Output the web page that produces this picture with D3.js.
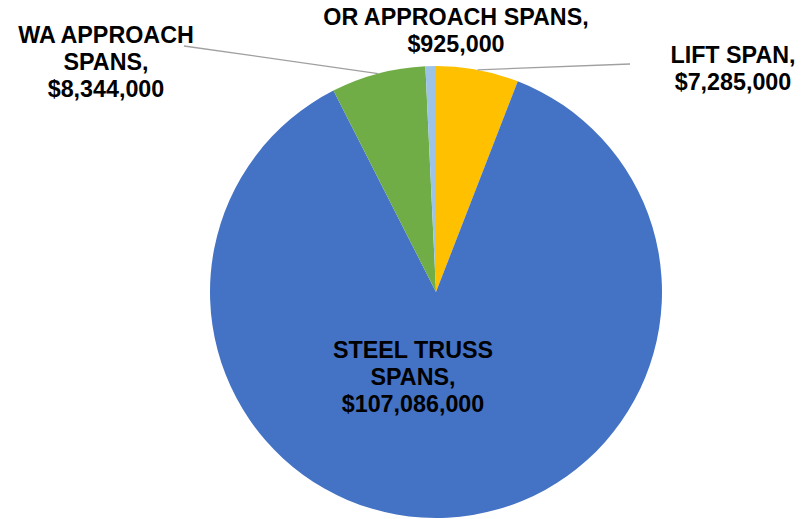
<!DOCTYPE html>
<html>
<head>
<meta charset="utf-8">
<script src="https://cdn.jsdelivr.net/npm/d3@7"></script>
<style>
  html, body { margin: 0; padding: 0; background: #fff; }
  svg { display: block; }
  text { font-family: "Liberation Sans", Arial, sans-serif; font-weight: bold; font-size: 23.3px; fill: #000; }
</style>
</head>
<body>
<svg id="chart" width="807" height="519"></svg>
<script>
// ---- data ----
const categories = ["LIFT SPAN", "STEEL TRUSS SPANS", "WA APPROACH SPANS", "OR APPROACH SPANS"];
const values = [7285000, 107086000, 8344000, 925000];
const labelLines = [
  ["LIFT SPAN,", "$7,285,000"],
  ["STEEL TRUSS", "SPANS,", "$107,086,000"],
  ["WA APPROACH", "SPANS,", "$8,344,000"],
  ["OR APPROACH SPANS,", "$925,000"]
];
const colors = ["#FFC000", "#4472C4", "#70AD47", "#9DC3E6"];

// ---- layout ----
const W = 807, H = 519;
const cx = 436, cy = 292, R = 226;
const lineH = 27;
const labelPos = [
  { x: 733, y: 63, leader: [630, 64] },
  { x: 413, y: 358, leader: null },
  { x: 106, y: 43, leader: [184, 46] },
  { x: 456, y: 25, leader: null }
];

const svg = d3.select("#chart");
const g = svg.append("g").attr("transform", `translate(${cx},${cy})`);

const data = categories.map((c, i) => ({ name: c, value: values[i], i }));
const pie = d3.pie().value(d => d.value).sort(null);
const arcs = pie(data);
const arc = d3.arc().innerRadius(0).outerRadius(R);
const edgeArc = d3.arc().innerRadius(R).outerRadius(R);

g.selectAll("path.slice")
  .data(arcs)
  .enter().append("path")
  .attr("class", "slice")
  .attr("d", arc)
  .attr("fill", d => colors[d.data.i]);

// leader lines
arcs.forEach(a => {
  const p = labelPos[a.data.i];
  if (!p.leader) return;
  const [ex, ey] = edgeArc.centroid(a);
  svg.append("line")
    .attr("x1", p.leader[0]).attr("y1", p.leader[1])
    .attr("x2", cx + ex).attr("y2", cy + ey)
    .attr("stroke", "#A0A0A0")
    .attr("stroke-width", 1.3);
});

// labels
arcs.forEach(a => {
  const i = a.data.i;
  const p = labelPos[i];
  const t = svg.append("text").attr("text-anchor", "middle");
  labelLines[i].forEach((ln, k) => {
    t.append("tspan").attr("x", p.x).attr("y", p.y + k * lineH).text(ln);
  });
});
</script>
</body>
</html>
